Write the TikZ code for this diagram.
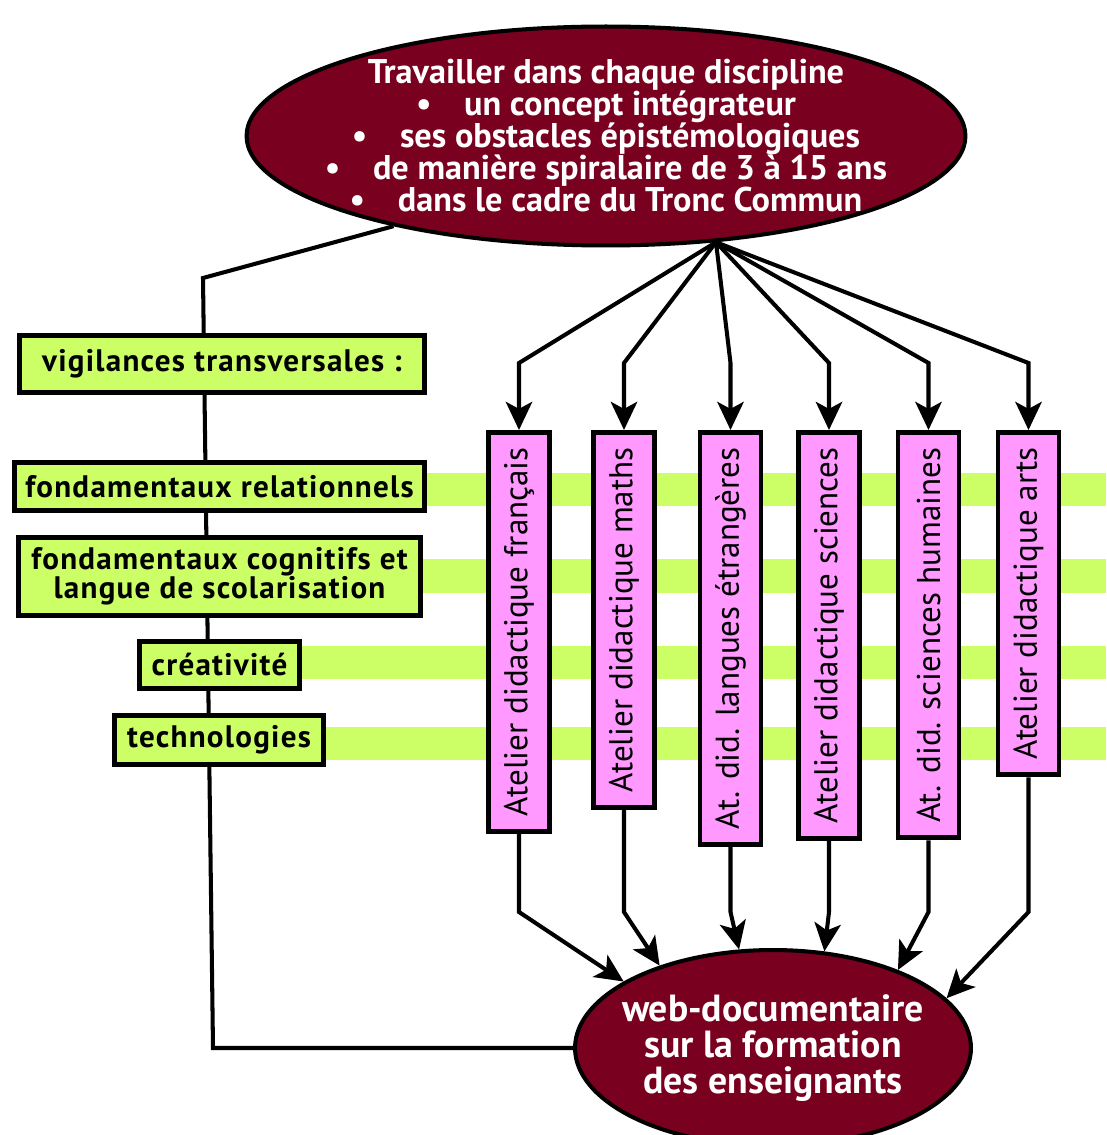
\documentclass[tikz,border=0pt]{standalone}
\usepackage{fontspec}
\setmainfont{PT Sans}
\newfontfamily\spacedfont{PT Sans}[LetterSpace=4]
\usetikzlibrary{arrows.meta,shapes.geometric}
\definecolor{bordeaux}{RGB}{122,0,32}
\definecolor{vertclair}{RGB}{204,255,102}
\definecolor{rose}{RGB}{255,153,255}
\tikzset{
  basic/.style   = {draw, line width=2.8pt, align=center, inner sep=0pt},
  bulle/.style   = {basic, ellipse, fill=bordeaux, text=white, line width=2.3pt,
                    inner sep=-2.5cm},
  vigil/.style   = {basic, rectangle, fill=vertclair,
                    font=\spacedfont\bfseries\fontsize{17.7}{16.5}\selectfont},
  atelier/.style = {basic, rectangle, fill=rose, rotate=90, anchor=east,
                    minimum height=1.22cm, inner xsep=0.3cm,
                    font=\fontsize{18.8}{20}\selectfont},
  band/.style    = {fill=vertclair},
  lien/.style    = {line width=2.3pt}
}
\begin{document}
\begin{tikzpicture}[x=0.02cm, y=-0.02cm,
  >={Stealth[length=16pt,width=15pt,inset=4pt]}]

\useasboundingbox (0,0) rectangle (1106,1135);
\clip (0,0) rectangle (1106,1135);

\node[bulle, minimum width=14.38cm, minimum height=4.38cm,
      font=\bfseries\fontsize{19.5}{18.2}\selectfont] (top) at (606,136)
  {Travailler dans chaque discipline\\
   •\hspace{0.7em} un concept intégrateur\\
   •\hspace{0.7em} ses obstacles épistémologiques\\
   •\hspace{0.7em} de manière spiralaire de 3 à 15 ans\\
   •\hspace{0.7em} dans le cadre du Tronc Commun};

\node[bulle, minimum width=7.92cm, minimum height=3.92cm,
      font=\bfseries\fontsize{21.5}{20.5}\selectfont] (web) at (773,1048)
  {web-documentaire\\sur la formation\\des enseignants};

% bandes vertes derriere les ateliers
\foreach \ya/\yb in {473/506, 559/593, 646/679, 727/760}
  \fill[band] (220,\ya) rectangle (1106,\yb);

\coordinate (coin) at (203,278);
\coordinate (coinbas) at (213,1048);
\draw[lien] (top.203) -- (coin) -- (coinbas) -- (web.west);

\node[vigil, minimum width=8.1cm, minimum height=1.14cm] at (222,364) (vig) {vigilances transversales :};
\node[vigil, minimum width=8.2cm, minimum height=0.96cm] at (219.5,486.5) (rel) {fondamentaux relationnels};
\node[vigil, minimum width=8.04cm, minimum height=1.56cm] at (219.5,576.5) (cog) {fondamentaux cognitifs et\\langue de scolarisation};
\node[vigil, minimum width=3.2cm, minimum height=0.94cm] at (219.5,665) (cre) {créativité};
\node[vigil, minimum width=4.18cm, minimum height=0.98cm] at (219,740) (tech) {technologies};

\foreach \x/\nom/\txt/\ang in {519/fr/Atelier didactique français/156,
    624/ma/Atelier didactique maths/144, 730.5/la/At. did. langues étrangères/109,
    829/sc/Atelier didactique sciences/62, 928.5/sh/At. did. sciences humaines/32,
    1028.5/ar/Atelier didactique arts/16}{
    \node[atelier] at (\x,430) (\nom) {\txt};
    \draw[lien,->] (top.-44) -- (\x,363) -- (\nom.east);
    \draw[lien,->] (\nom.west) -- (\x,912) -- (web.\ang);
    }

\end{tikzpicture}
\end{document}
